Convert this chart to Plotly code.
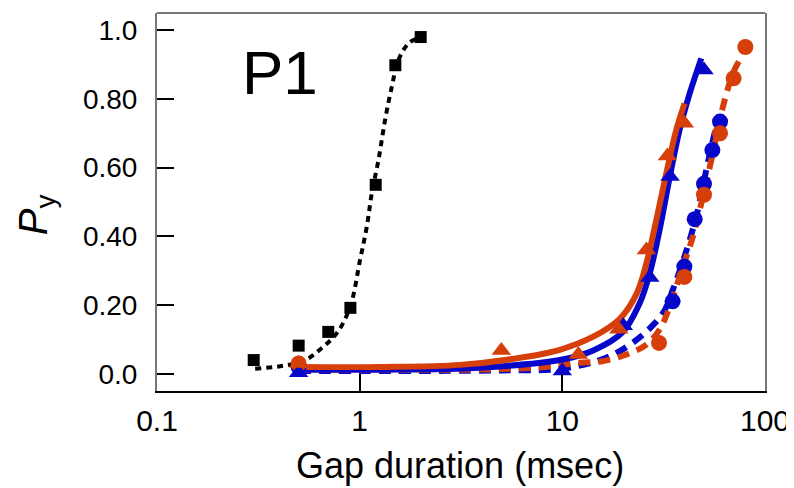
import plotly.graph_objects as go

# ---------------- data ----------------
# measured points
sq_x = [0.3, 0.5, 0.7, 0.9, 1.2, 1.5, 2.0]
sq_y = [0.04, 0.082, 0.122, 0.192, 0.55, 0.898, 0.98]

tri_blue_x = [0.5, 10, 20, 27, 34, 50]
tri_blue_y = [0.003, 0.008, 0.14, 0.28, 0.574, 0.884]

tri_orange_x = [0.5, 5, 12, 19, 26, 33, 40]
tri_orange_y = [0.03, 0.068, 0.056, 0.13, 0.36, 0.634, 0.729]

circ_blue_x = [0.5, 35, 40, 45, 50, 55, 60]
circ_blue_y = [0.02, 0.211, 0.312, 0.45, 0.553, 0.651, 0.734]

circ_orange_x = [0.5, 30, 40, 50, 60, 70, 80]
circ_orange_y = [0.03, 0.09, 0.282, 0.521, 0.70, 0.86, 0.951]

# fitted curves (traced)
fit_black_x = [0.305, 0.405, 0.528, 0.638, 0.773, 0.898, 1.005, 1.085, 1.148,
               1.238, 1.335, 1.44, 1.553, 1.738, 1.95]
fit_black_y = [0.015, 0.022, 0.037, 0.071, 0.119, 0.196, 0.332, 0.429, 0.526,
               0.622, 0.739, 0.835, 0.913, 0.961, 0.978]

fit_orange_solid_x = [0.5, 1.26, 3.13, 6.41, 9.72, 14.2, 19.2, 23.2,
                      26.0, 29.1, 32.6, 36.5, 40.1]
fit_orange_solid_y = [0.02, 0.02, 0.026, 0.048, 0.07, 0.108, 0.16, 0.232,
                      0.322, 0.448, 0.584, 0.71, 0.787]

fit_blue_solid_x = [0.5, 1.26, 3.93, 9.72, 14.2, 19.9, 24.1, 27.0, 30.2, 33.9,
                    37.9, 42.5, 48.5]
fit_blue_solid_y = [0.012, 0.012, 0.018, 0.04, 0.068, 0.122, 0.206, 0.293, 0.419, 0.574,
                    0.71, 0.816, 0.918]

fit_blue_dash_x = [0.5, 5, 10, 15.3, 19.2, 25.0, 31.4, 35.1, 40.1, 45.8, 51.3,
                   56.4, 59.7]
fit_blue_dash_y = [0.008, 0.01, 0.015, 0.04, 0.066, 0.114, 0.177, 0.245, 0.342,
                   0.458, 0.593, 0.70, 0.753]

fit_orange_dash_x = [0.5, 6.92, 12.2, 15.9, 20.7, 26.0, 30.2, 33.9, 37.9, 44.1,
                     49.4, 55.3, 62.0, 69.4, 74.9]
fit_orange_dash_y = [0.012, 0.017, 0.032, 0.037, 0.056, 0.085, 0.129, 0.196, 0.283,
                     0.40, 0.516, 0.642, 0.777, 0.874, 0.913]

x_tick_vals = [0.1, 1, 10, 100]
x_tick_text = ["0.1", "1", "10", "100"]
y_tick_vals = [0, 0.2, 0.4, 0.6, 0.8, 1.0]
y_tick_text = ["0.0", "0.20", "0.40", "0.60", "0.80", "1.0"]

# ---------------- styling ----------------
BLUE = "#0707C9"
ORANGE = "#D63F0A"
FONT = "Liberation Sans, Arial, sans-serif"

fig = go.Figure()

def line(x, y, color, dash, width=6):
    fig.add_trace(go.Scatter(x=x, y=y, mode="lines", line_shape="spline",
                             line=dict(color=color, width=width, dash=dash),
                             hoverinfo="skip"))

def pts(x, y, color, symbol, size):
    fig.add_trace(go.Scatter(x=x, y=y, mode="markers",
                             marker=dict(color=color, symbol=symbol, size=size,
                                         line=dict(width=0))))

line(fit_black_x, fit_black_y, "black", "6px,5px", 4)
line(fit_blue_dash_x, fit_blue_dash_y, BLUE, "12px,8px")
line(fit_orange_dash_x, fit_orange_dash_y, ORANGE, "12px,8px")
line(fit_blue_solid_x, fit_blue_solid_y, BLUE, "solid")
line(fit_orange_solid_x, fit_orange_solid_y, ORANGE, "solid")

pts(sq_x, sq_y, "black", "square", 12)
pts(circ_blue_x, circ_blue_y, BLUE, "circle", 16)
pts(circ_orange_x, circ_orange_y, ORANGE, "circle", 16)
pts(tri_blue_x, tri_blue_y, BLUE, "triangle-up", 17)
pts(tri_orange_x, tri_orange_y, ORANGE, "triangle-up", 17)

# the page body adds an 8px offset; margins compensate for it
fig.update_layout(
    width=794, height=480,
    margin=dict(l=149, r=37, t=5, b=97),
    paper_bgcolor="white", plot_bgcolor="white",
    showlegend=False,
    font=dict(family=FONT, color="black"),
    xaxis=dict(type="log", range=[-1, 2], tickvals=x_tick_vals, ticktext=x_tick_text,
               ticks="inside", ticklen=17, tickwidth=1.5, tickcolor="black",
               showline=True, linecolor="black", linewidth=2, automargin=False,
               showgrid=False, zeroline=False, tickfont=dict(size=30),
               ticklabelstandoff=2),
    yaxis=dict(range=[-0.05, 1.05], tickvals=y_tick_vals, ticktext=y_tick_text,
               ticks="inside", ticklen=17, tickwidth=1.5, tickcolor="black",
               showline=True, linecolor="#777777", linewidth=2, mirror=True,
               showgrid=False, zeroline=False, tickfont=dict(size=28),
               automargin=False, ticklabelstandoff=12),
    shapes=[dict(type="line", xref="paper", yref="paper", x0=0, x1=1, y0=1, y1=1,
                 line=dict(color="#777777", width=2))],
    annotations=[
        dict(text="Gap duration (msec)", xref="paper", yref="paper", x=0.498, y=-0.196,
             showarrow=False, font=dict(size=36), xanchor="center", yanchor="middle"),
        dict(text="<i>P</i><sub>y</sub>", xref="paper", yref="paper", x=-0.2, y=0.466,
             showarrow=False, textangle=-90, font=dict(size=40),
             xanchor="center", yanchor="middle"),
        dict(text="P1", xref="paper", yref="paper", x=0.2026, y=0.843,
             showarrow=False, font=dict(size=62), xanchor="center", yanchor="middle"),
    ],
)

fig.write_html("out.html")
